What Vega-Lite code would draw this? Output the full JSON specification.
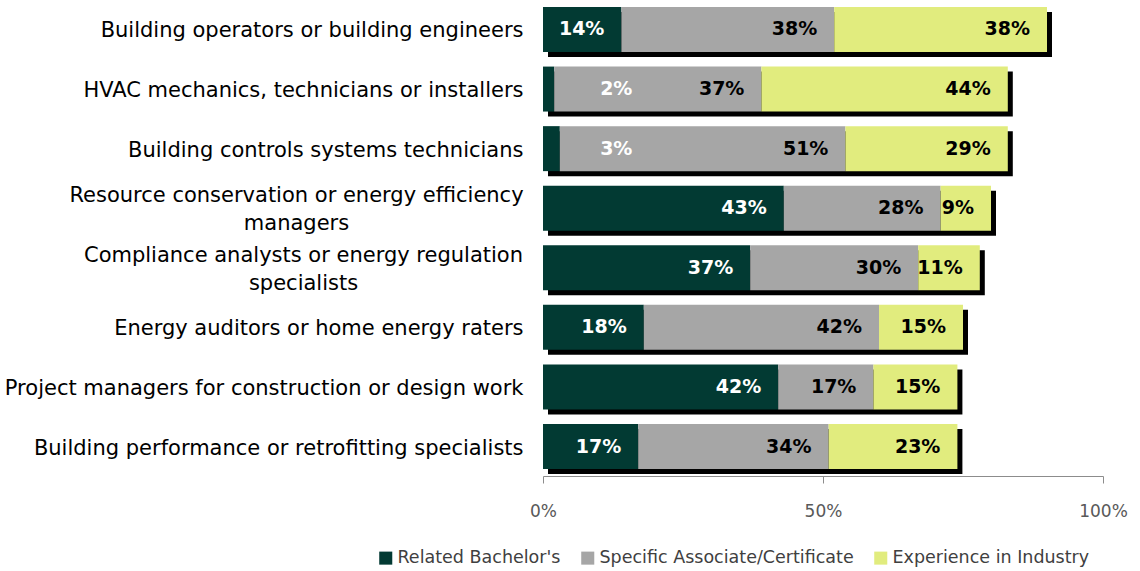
{
  "$schema": "https://vega.github.io/schema/vega-lite/v6.json",
  "width": 560,
  "height": 476,
  "autosize": {"type": "none"},
  "padding": {"left": 543, "top": 0, "right": 37, "bottom": 95},
  "background": "white",
  "config": {"view": {"stroke": null}, "font": "DejaVu Sans"},
  "data": {
    "values": [
      {"category": "Building operators or building engineers", "type": "Related Bachelor's", "value": 14},
      {"category": "Building operators or building engineers", "type": "Specific Associate/Certificate", "value": 38},
      {"category": "Building operators or building engineers", "type": "Experience in Industry", "value": 38},
      {"category": "HVAC mechanics, technicians or installers", "type": "Related Bachelor's", "value": 2},
      {"category": "HVAC mechanics, technicians or installers", "type": "Specific Associate/Certificate", "value": 37},
      {"category": "HVAC mechanics, technicians or installers", "type": "Experience in Industry", "value": 44},
      {"category": "Building controls systems technicians", "type": "Related Bachelor's", "value": 3},
      {"category": "Building controls systems technicians", "type": "Specific Associate/Certificate", "value": 51},
      {"category": "Building controls systems technicians", "type": "Experience in Industry", "value": 29},
      {"category": "Resource conservation or energy efficiency managers", "type": "Related Bachelor's", "value": 43},
      {"category": "Resource conservation or energy efficiency managers", "type": "Specific Associate/Certificate", "value": 28},
      {"category": "Resource conservation or energy efficiency managers", "type": "Experience in Industry", "value": 9},
      {"category": "Compliance analysts or energy regulation specialists", "type": "Related Bachelor's", "value": 37},
      {"category": "Compliance analysts or energy regulation specialists", "type": "Specific Associate/Certificate", "value": 30},
      {"category": "Compliance analysts or energy regulation specialists", "type": "Experience in Industry", "value": 11},
      {"category": "Energy auditors or home energy raters", "type": "Related Bachelor's", "value": 18},
      {"category": "Energy auditors or home energy raters", "type": "Specific Associate/Certificate", "value": 42},
      {"category": "Energy auditors or home energy raters", "type": "Experience in Industry", "value": 15},
      {"category": "Project managers for construction or design work", "type": "Related Bachelor's", "value": 42},
      {"category": "Project managers for construction or design work", "type": "Specific Associate/Certificate", "value": 17},
      {"category": "Project managers for construction or design work", "type": "Experience in Industry", "value": 15},
      {"category": "Building performance or retrofitting specialists", "type": "Related Bachelor's", "value": 17},
      {"category": "Building performance or retrofitting specialists", "type": "Specific Associate/Certificate", "value": 34},
      {"category": "Building performance or retrofitting specialists", "type": "Experience in Industry", "value": 23}
    ]
  },
  "transform": [
    {"calculate": "indexof(['Related Bachelor\\'s', 'Specific Associate/Certificate', 'Experience in Industry'], datum.type)", "as": "k"},
    {"stack": "value", "groupby": ["category"], "sort": [{"field": "k"}], "as": ["x0", "x1"]},
    {"joinaggregate": [{"op": "sum", "field": "value", "as": "total"}], "groupby": ["category"]},
    {"calculate": "datum.k == 0 && datum.value < 5 ? 19 : datum.x1", "as": "lx"},
    {"calculate": "datum.value + '%'", "as": "txt"}
  ],
  "encoding": {
    "y": {
      "field": "category",
      "type": "nominal",
      "sort": null,
      "scale": {"paddingInner": 0.245, "paddingOuter": 0.1175},
      "axis": {
        "title": null,
        "domain": false,
        "ticks": false,
        "labelFontSize": 21,
        "labelColor": "#000000",
        "labelLimit": 600,
        "labelLineHeight": 28,
        "labelExpr": "datum.value == 'Resource conservation or energy efficiency managers' ? ['Resource conservation or energy efficiency', 'managers'] : datum.value == 'Compliance analysts or energy regulation specialists' ? ['Compliance analysts or energy regulation', 'specialists'] : datum.value",
        "labelAlign": {"condition": {"test": "indexof(datum.value, 'Resource') == 0 || indexof(datum.value, 'Compliance') == 0", "value": "center"}, "value": "right"},
        "labelPadding": {"condition": [{"test": "indexof(datum.value, 'Resource') == 0", "value": 247}, {"test": "indexof(datum.value, 'Compliance') == 0", "value": 240}], "value": 20},
        "labelOffset": {"condition": {"test": "indexof(datum.value, 'Resource') == 0 || indexof(datum.value, 'Compliance') == 0", "value": -12}, "value": 2}
      }
    }
  },
  "layer": [
    {
      "transform": [{"filter": "datum.k == 0"}],
      "mark": {"type": "bar", "color": "#000000", "xOffset": 5, "x2Offset": 5, "yOffset": 5},
      "encoding": {
        "x": {"field": "total", "type": "quantitative", "scale": {"domain": [0, 100]}},
        "x2": {"datum": 0}
      }
    },
    {
      "mark": {"type": "bar"},
      "encoding": {
        "x": {
          "field": "x0",
          "type": "quantitative",
          "scale": {"domain": [0, 100]},
          "axis": {
            "title": null,
            "values": [0, 50, 100],
            "labelExpr": "datum.value + '%'",
            "labelFlush": false,
            "grid": false,
            "domainColor": "#8C8C8C",
            "tickColor": "#8C8C8C",
            "tickSize": 7,
            "labelPadding": 20,
            "labelFontSize": 17,
            "labelColor": "#595959"
          }
        },
        "x2": {"field": "x1"},
        "color": {
          "field": "type",
          "type": "nominal",
          "scale": {
            "domain": ["Related Bachelor's", "Specific Associate/Certificate", "Experience in Industry"],
            "range": ["#023A33", "#A6A6A6", "#E1EC7E"]
          },
          "legend": {
            "title": null,
            "orient": "none",
            "direction": "horizontal",
            "legendX": -166,
            "legendY": 549,
            "symbolType": "square",
            "symbolSize": 170,
            "symbolStrokeWidth": 0,
            "labelFontSize": 17.5,
            "labelColor": "#404040",
            "labelOffset": 3,
            "columnPadding": 18,
            "labelLimit": 400
          }
        }
      }
    },
    {
      "mark": {"type": "text", "align": "right", "dx": -17, "fontSize": 19, "fontWeight": "bold", "baseline": "middle"},
      "encoding": {
        "x": {"field": "lx", "type": "quantitative"},
        "text": {"field": "txt", "type": "nominal"},
        "color": {"condition": {"test": "datum.k == 0", "value": "#FFFFFF"}, "value": "#000000"}
      }
    }
  ]
}
